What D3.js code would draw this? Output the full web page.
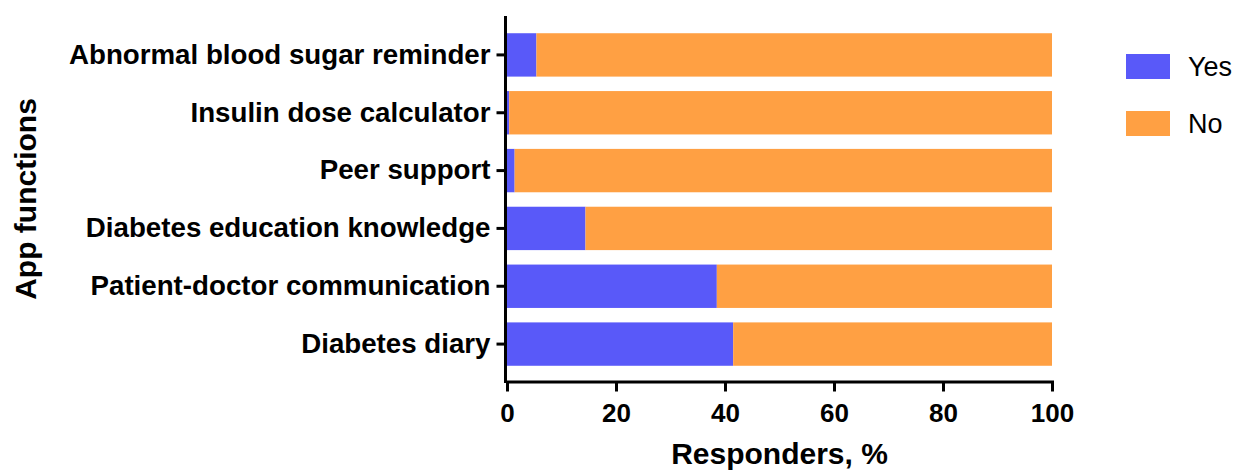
<!DOCTYPE html>
<html>
<head>
<meta charset="utf-8">
<script src="https://cdn.jsdelivr.net/npm/d3@7"></script>
<style>
  html, body { margin: 0; padding: 0; background: #fff; }
  svg { display: block; font-family: "Liberation Sans", Arial, sans-serif; }
</style>
</head>
<body>
<svg id="chart" width="1240" height="470"></svg>
<script>
const categories = [
  "Abnormal blood sugar reminder",
  "Insulin dose calculator",
  "Peer support",
  "Diabetes education knowledge",
  "Patient-doctor communication",
  "Diabetes diary"
];
const yesValues = [5.4, 0.4, 1.4, 14.4, 38.5, 41.5];
const noValues  = [94.6, 99.6, 98.6, 85.6, 61.5, 58.5];
const xTicks = [0, 20, 40, 60, 80, 100];
const seriesNames = ["Yes", "No"];
const seriesColors = ["#5959F9", "#FFA043"];

const svg = d3.select("#chart");

const x = d3.scaleLinear().domain([0, 100]).range([507, 1052]);
const y = d3.scaleBand().domain(categories).range([26, 373]).paddingInner(0.25).paddingOuter(0.125);
const color = d3.scaleOrdinal().domain(seriesNames).range(seriesColors);

const rows = categories.map((c, i) => ({ cat: c, Yes: yesValues[i], No: noValues[i] }));
const stacked = d3.stack().keys(seriesNames)(rows);

svg.append("g").selectAll("g")
  .data(stacked).join("g")
  .attr("fill", d => color(d.key))
  .selectAll("rect")
  .data(d => d).join("rect")
  .attr("x", d => x(d[0]))
  .attr("width", d => x(d[1]) - x(d[0]))
  .attr("y", d => y(d.data.cat))
  .attr("height", y.bandwidth());

// X axis
const xAxis = svg.append("g")
  .attr("transform", "translate(0,381.5)")
  .call(d3.axisBottom(x).tickValues(xTicks).tickSize(10).tickSizeOuter(0).tickPadding(12));
xAxis.select(".domain").attr("stroke", "#000").attr("stroke-width", 3).attr("stroke-linecap", "square");
xAxis.selectAll(".tick line").attr("stroke", "#000").attr("stroke-width", 3);
xAxis.selectAll(".tick text")
  .attr("fill", "#000")
  .style("font-size", "26px")
  .style("font-weight", "bold")
  .style("font-family", "'Liberation Sans', Arial, sans-serif");

// Y axis
const yAxis = svg.append("g")
  .attr("transform", "translate(505.5,0)")
  .call(d3.axisLeft(y).tickSize(9).tickSizeOuter(0).tickPadding(6));
yAxis.select(".domain").remove();
yAxis.append("line")
  .attr("x1", 0).attr("x2", 0).attr("y1", 16).attr("y2", 383)
  .attr("stroke", "#000").attr("stroke-width", 3);
yAxis.selectAll(".tick line").attr("stroke", "#000").attr("stroke-width", 3);
yAxis.selectAll(".tick text")
  .attr("fill", "#000")
  .style("font-size", "27.7px")
  .style("font-weight", "bold")
  .style("font-family", "'Liberation Sans', Arial, sans-serif");

// Axis titles
svg.append("text")
  .attr("x", (x(0) + x(100)) / 2)
  .attr("y", 464)
  .attr("text-anchor", "middle")
  .style("font-size", "30px")
  .style("font-weight", "bold")
  .text("Responders, %");

svg.append("text")
  .attr("transform", "translate(36,199) rotate(-90)")
  .attr("text-anchor", "middle")
  .style("font-size", "30px")
  .style("font-weight", "bold")
  .text("App functions");

// Legend
const legend = svg.append("g").selectAll("g")
  .data(seriesNames).join("g")
  .attr("transform", (d, i) => `translate(1126,${54 + i * 57})`);
legend.append("rect")
  .attr("width", 44).attr("height", 25)
  .attr("fill", d => color(d));
legend.append("text")
  .attr("x", 62).attr("y", 12.5)
  .attr("dy", "0.36em")
  .style("font-size", "27px")
  .text(d => d);
</script>
</body>
</html>
